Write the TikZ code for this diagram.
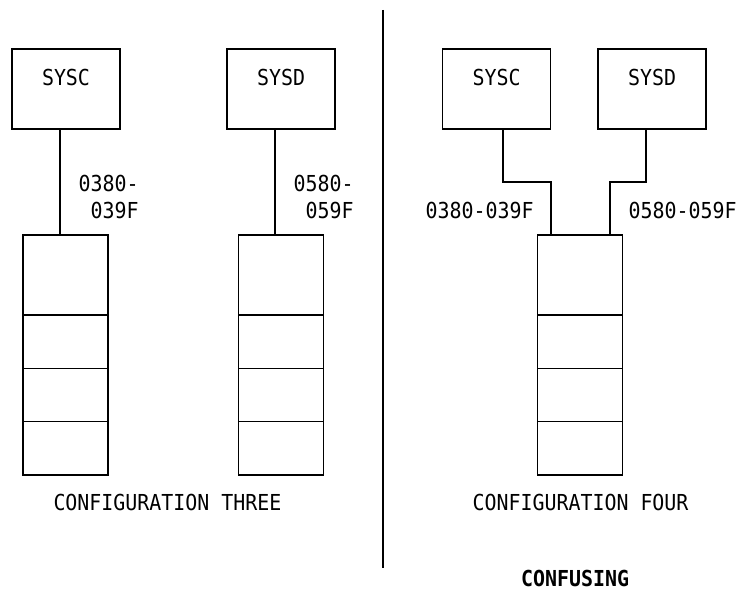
\documentclass[tikz,border=0pt]{standalone}
\usepackage{fontspec}
\setmonofont[FakeStretch=0.906]{DejaVu Sans Mono}
\usetikzlibrary{positioning}

\begin{document}
\begin{tikzpicture}[
    x=0.75pt, y=-0.75pt,
    font=\ttfamily\fontsize{16.5}{20.25}\selectfont,
    line width=0.9pt,
    node distance=0pt,
    % Box styles
    sysbox/.style={draw, minimum width=81pt, minimum height=60pt, inner sep=0pt, outer sep=0pt},
    memtop/.style={draw, minimum width=63.75pt, minimum height=60pt, inner sep=0pt, outer sep=0pt},
    memcell/.style={draw, minimum width=63.75pt, minimum height=40pt, inner sep=0pt, outer sep=0pt},
    addr/.style={inner sep=0pt, align=left},
    link/.style={draw=black},
]
    \useasboundingbox (0,0) rectangle (737,591);

    % Systems
    \node[sysbox, label={[yshift=9pt]center:SYSC}] (c3sysc) at (66,89) {};
    \node[sysbox, label={[yshift=9pt]center:SYSD}] (c3sysd) at (281,89) {};
    \node[sysbox, label={[yshift=9pt]center:SYSC}] (c4sysc) at (496.5,89) {};
    \node[sysbox, label={[yshift=9pt]center:SYSD}] (c4sysd) at (652,89) {};

    % Storage stacks
    \foreach \s/\x in {c3a/65.5, c3b/281, c4/580} {
        \node[memtop] (\s mem0) at (\x,275) {};
        \foreach \i [count=\j from 0] in {1,2,3} {
            \node[memcell, below=of \s mem\j] (\s mem\i) {};
        }
    }

    % Connections, configuration three
    \draw[link] ([xshift=-4.5pt]c3sysc.south) -- ([xshift=-4.5pt]c3sysc.south |- c3amem0.north);
    \draw[link] ([xshift=-4.5pt]c3sysd.south) -- ([xshift=-4.5pt]c3sysd.south |- c3bmem0.north);

    % Connections, configuration four
    \coordinate (c4bendc) at (551,182);
    \coordinate (c4bendd) at (610,182);
    \draw[link] ([xshift=4.875pt]c4sysc.south) |- (c4bendc) -- (c4bendc |- c4mem0.north);
    \draw[link] ([xshift=-4.5pt]c4sysd.south) |- (c4bendd) -- (c4bendd |- c4mem0.north);

    % Address ranges
    \node[addr, anchor=west] (c3addrc) at (78,196.5) {0380-\\\hphantom{0}039F};
    \node[addr, anchor=west] (c3addrd) at (293,196.5) {0580-\\\hphantom{0}059F};
    \node[addr, anchor=west] (c4addrc) at (425,210) {0380-039F};
    \node[addr, anchor=west] (c4addrd) at (628,210) {0580-059F};

    % Captions
    \node (cap3) at (167.5,502) {CONFIGURATION THREE};
    \node (cap4) at (580.5,502) {CONFIGURATION FOUR};
    \node[font=\ttfamily\bfseries\fontsize{16.5}{18}\selectfont] (confusing) at (575,578.5) {CONFUSING};

    % Separator
    \coordinate (septop) at (383,10);
    \coordinate (sepbot) at (383,568);
    \draw[line width=1.5pt] (septop) -- (sepbot);

\end{tikzpicture}
\end{document}
